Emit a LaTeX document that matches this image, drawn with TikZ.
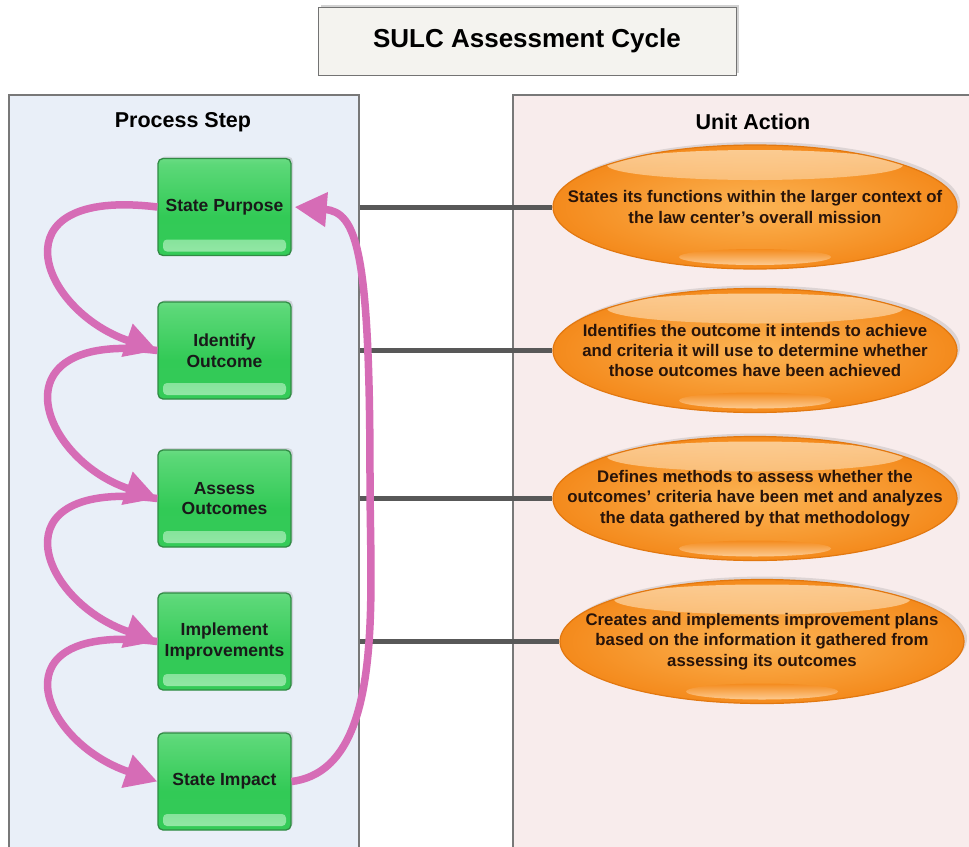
\documentclass[tikz,border=0pt]{standalone}
\usepackage{fontspec}
\setmainfont{Liberation Sans}
\usetikzlibrary{arrows.meta,shapes.geometric,shadows,calc}
\definecolor{lpfill}{RGB}{233,239,248}
\definecolor{rpfill}{RGB}{248,236,236}
\definecolor{panelborder}{RGB}{120,120,120}
\definecolor{titlefill}{RGB}{244,243,239}
\definecolor{gtop}{RGB}{170,238,186}
\definecolor{gupper}{RGB}{92,216,120}
\definecolor{gmid}{RGB}{50,202,86}
\definecolor{gbot}{RGB}{56,204,92}
\definecolor{gstrip}{RGB}{150,232,168}
\definecolor{gborder}{RGB}{48,138,68}
\definecolor{otop}{RGB}{252,180,84}
\definecolor{oout}{RGB}{244,138,28}
\definecolor{ohigh}{RGB}{255,228,190}
\definecolor{olow}{RGB}{255,214,165}
\definecolor{oborder}{RGB}{226,120,16}
\definecolor{otext}{RGB}{40,20,10}
\definecolor{pinkarrow}{RGB}{214,108,182}
\definecolor{linkgray}{RGB}{88,88,88}
\pgfdeclareverticalshading{greenbox}{100bp}{color(0bp)=(gbot); color(45bp)=(gmid); color(72bp)=(gupper); color(90bp)=(gtop); color(100bp)=(gtop)}
\tikzset{
  panelL/.style={draw=panelborder, line width=1.2, fill=lpfill, minimum width=350, minimum height=758, inner sep=0},
  panelR/.style={draw=panelborder, line width=1.2, fill=rpfill, minimum width=462, minimum height=758, inner sep=0},
  titlebox/.style={draw=black!55, line width=1, fill=titlefill, minimum width=418, minimum height=68,
    font=\bfseries\fontsize{26}{30}\selectfont, drop shadow={opacity=0.35, shadow xshift=2.5, shadow yshift=-2.5}},
  headtext/.style={font=\bfseries\fontsize{21.5}{25}\selectfont},
  stepbox/.style={rounded corners=5, draw=gborder, line width=1.3,
    shading=greenbox,
    minimum width=133, minimum height=97, inner sep=0, align=center, text=black!90,
    font=\bfseries\fontsize{17.5}{20.5}\selectfont,
    drop shadow={opacity=0.25, shadow xshift=2, shadow yshift=-2},
    path picture={
      \shade[top color=gbot, bottom color=gstrip, rounded corners=4]
        ($(path picture bounding box.south west)+(5,-16)$) rectangle ($(path picture bounding box.south east)+(-5,-4)$);
    }},
  actionell/.style={ellipse, draw=oborder, line width=1.2, inner color=otop, outer color=oout,
    minimum width=404, minimum height=124, inner xsep=-52pt, inner ysep=0pt, align=center, text=otext,
    font=\bfseries\fontsize{16.8}{20.2}\selectfont,
    drop shadow={opacity=0.22, shadow xshift=3, shadow yshift=-3},
    path picture={
      \shade[top color=ohigh, bottom color=oout, opacity=0.75]
        ($(path picture bounding box.north)+(0,20)$) ellipse [x radius=148, y radius=15];
      \shade[top color=oout, bottom color=olow, opacity=0.85]
        ($(path picture bounding box.south)+(0,-12)$) ellipse [x radius=76, y radius=8];
    }},
  link/.style={draw=linkgray, line width=5},
  cyc/.style={draw=pinkarrow, line width=7.5, -{Triangle[length=32pt,width=33pt]}},
}
\begin{document}
\begin{tikzpicture}[x=1pt,y=-1pt]
\useasboundingbox (0,0) rectangle (969,846);
\fill[white] (0,0) rectangle (969,846);

% panels
\node[panelL] (lp) at (184,474) {};
\node[panelR] (rp) at (744,474) {};

% title
\node[titlebox] (title) at (527,41) {SULC Assessment Cycle};

% headings
\node[headtext] (lh) at (183,122) {Process Step};
\node[headtext] (rh) at (753,122) {Unit Action};

% steps
\node[stepbox] (b1) at (224.5,207) {State Purpose};
\node[stepbox] (b2) at (224.5,350.5) {Identify\\Outcome};
\node[stepbox] (b3) at (224.5,498.5) {Assess\\Outcomes};
\node[stepbox] (b4) at (224.5,641.5) {Implement\\Improvements};
\node[stepbox] (b5) at (224.5,781.5) {State Impact};

% actions
\node[actionell] (e1) at (755,207) {States its functions within the larger context of\\the law center's overall mission};
\node[actionell] (e2) at (755,350.5) {Identifies the outcome it intends to achieve\\and criteria it will use to determine whether\\those outcomes have been achieved};
\node[actionell] (e3) at (755,498.5) {Defines methods to assess whether the\\outcomes' criteria have been met and analyzes\\the data gathered by that methodology};
\node[actionell] (e4) at (762,641.5) {Creates and implements improvement plans\\based on the information it gathered from\\assessing its outcomes};

% links
\draw[link] (lp.east |- b1) -- (e1.west);
\draw[link] (lp.east |- b2) -- (e2.west);
\draw[link] (lp.east |- b3) -- (e3.west);
\draw[link] (lp.east |- b4) -- (e4.west);

% cycle arrows
\draw[cyc] (b4.west) .. controls +(-165,-20) and +(-118,-40) .. (b5.west);
\draw[cyc] (b3.west) .. controls +(-165,-20) and +(-118,-40) .. (b4.west);
\draw[cyc] (b2.west) .. controls +(-165,-20) and +(-118,-40) .. (b3.west);
\draw[cyc] (b1.west) .. controls +(-165,-20) and +(-118,-40) .. (b2.west);
\coordinate (via) at (370,480);
\draw[cyc] (b5.east) .. controls +(94,-12) and +(0,120) .. (via)
  .. controls +(0,-230) and +(62,5) .. ([xshift=3pt]b1.east);
\end{tikzpicture}
\end{document}
